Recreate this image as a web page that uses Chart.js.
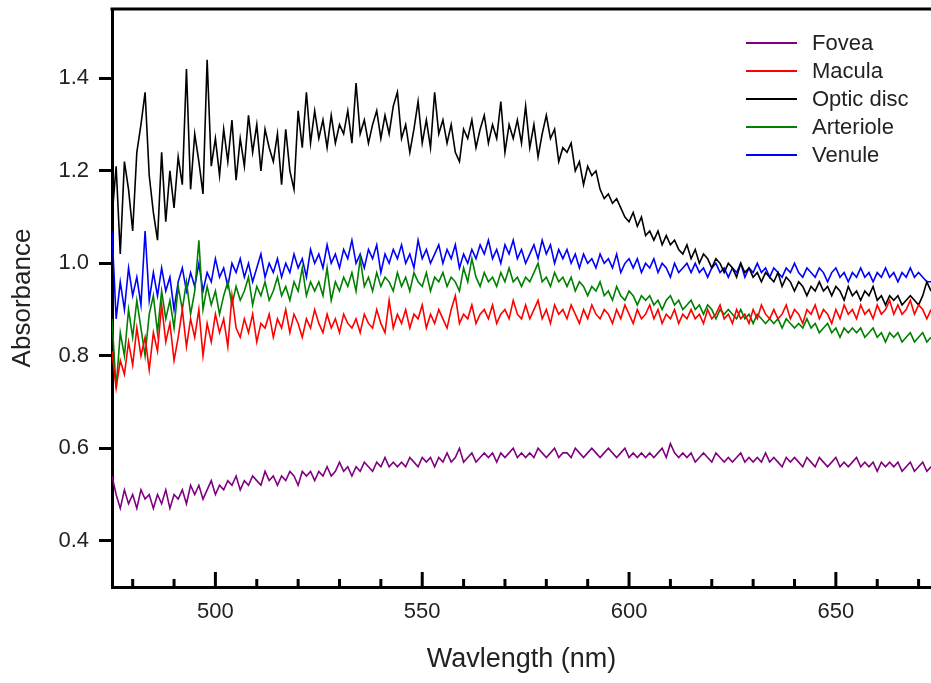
<!DOCTYPE html>
<html>
<head>
<meta charset="utf-8">
<script src="https://cdn.jsdelivr.net/npm/chart.js@4.4.1/dist/chart.umd.min.js"></script>
<style>
    body { margin: 0; background: #fff; }
    #wrap { position: relative; width: 931px; height: 683px; }
    #legend { position: absolute; left: 746px; top: 29px; font-family: "Liberation Sans", Arial, sans-serif; font-size: 22px; color: #222; }
    .row { display: flex; align-items: center; height: 28px; }
    .swatch { width: 51px; height: 2px; margin-right: 15px; }
</style>
</head>
<body>
<div id="wrap">
    <canvas id="chart" width="931" height="683"></canvas>
    <div id="legend"></div>
</div>
<script>
// wavelengths start at 475 nm, one value per nm up to 673 nm
const waveStart = 475;
const xTickLabels = [500, 550, 600, 650];
const yTickLabels = [0.4, 0.6, 0.8, 1.0, 1.2, 1.4];
const seriesNames = ["Fovea", "Macula", "Optic disc", "Arteriole", "Venule"];
const seriesColors = ["#800080", "#ff0000", "#000000", "#008000", "#0000ff"];

const fovea = [
    0.54, 0.50, 0.47, 0.51, 0.48, 0.50, 0.47, 0.51, 0.49, 0.50,
    0.47, 0.50, 0.48, 0.51, 0.47, 0.50, 0.49, 0.51, 0.48, 0.52,
    0.50, 0.52, 0.49, 0.51, 0.53, 0.50, 0.52, 0.51, 0.53, 0.52,
    0.54, 0.51, 0.53, 0.52, 0.54, 0.53, 0.52, 0.55, 0.53, 0.54,
    0.52, 0.54, 0.53, 0.55, 0.54, 0.52, 0.55, 0.54, 0.55, 0.53,
    0.55, 0.54, 0.56, 0.54, 0.55, 0.57, 0.55, 0.56, 0.54, 0.56,
    0.55, 0.57, 0.56, 0.55, 0.57, 0.56, 0.58, 0.56, 0.57, 0.56,
    0.57, 0.56, 0.58, 0.57, 0.56, 0.58, 0.57, 0.58, 0.56, 0.58,
    0.57, 0.59, 0.57, 0.58, 0.60, 0.57, 0.58, 0.59, 0.57, 0.58,
    0.59, 0.58, 0.59, 0.57, 0.59, 0.58, 0.59, 0.60, 0.58, 0.59,
    0.58, 0.59, 0.58, 0.60, 0.59, 0.58, 0.59, 0.60, 0.58, 0.59,
    0.59, 0.58, 0.60, 0.59, 0.58, 0.59, 0.60, 0.59, 0.58, 0.59,
    0.60, 0.59, 0.58, 0.59, 0.60, 0.58, 0.59, 0.58, 0.59, 0.58,
    0.59, 0.58, 0.59, 0.60, 0.58, 0.61, 0.59, 0.58, 0.59, 0.58,
    0.59, 0.57, 0.58, 0.59, 0.58, 0.57, 0.59, 0.58, 0.57, 0.58,
    0.57, 0.58, 0.59, 0.57, 0.58, 0.57, 0.58, 0.57, 0.59, 0.57,
    0.58, 0.57, 0.56, 0.58, 0.57, 0.58, 0.57, 0.56, 0.58, 0.57,
    0.56, 0.58, 0.57, 0.56, 0.57, 0.58, 0.56, 0.57, 0.56, 0.57,
    0.58, 0.56, 0.57, 0.56, 0.57, 0.55, 0.57, 0.56, 0.57, 0.56,
    0.57, 0.55, 0.56, 0.57, 0.55, 0.56, 0.57, 0.55, 0.56
];

const macula = [
    0.81, 0.73, 0.79, 0.76, 0.83, 0.78, 0.86, 0.80, 0.84, 0.77,
    0.85, 0.81, 0.91, 0.83, 0.87, 0.79, 0.84, 0.90, 0.82, 0.88,
    0.84, 0.90, 0.80, 0.87, 0.83, 0.89, 0.85, 0.88, 0.82, 0.93,
    0.86, 0.84, 0.88, 0.85, 0.89, 0.83, 0.87, 0.86, 0.89, 0.84,
    0.88, 0.86, 0.90, 0.85, 0.89, 0.87, 0.84, 0.88, 0.86, 0.90,
    0.87, 0.85, 0.89, 0.86, 0.88, 0.85, 0.89, 0.87, 0.86, 0.88,
    0.85, 0.89, 0.87, 0.86, 0.90, 0.87, 0.85, 0.92, 0.86, 0.89,
    0.87, 0.90, 0.86, 0.89, 0.88, 0.91, 0.86, 0.89, 0.87, 0.90,
    0.88, 0.86, 0.90, 0.93, 0.87, 0.89, 0.88, 0.91, 0.87, 0.89,
    0.90, 0.88, 0.91, 0.87, 0.89, 0.90, 0.88, 0.92, 0.89, 0.88,
    0.91, 0.88, 0.90, 0.92, 0.88, 0.90, 0.87, 0.91, 0.89, 0.90,
    0.88, 0.91, 0.89, 0.87, 0.90, 0.88, 0.91, 0.89, 0.88, 0.90,
    0.89, 0.87, 0.90, 0.88, 0.91, 0.89, 0.87, 0.90, 0.88, 0.89,
    0.91, 0.88, 0.90, 0.87, 0.89, 0.88, 0.90, 0.87, 0.89, 0.88,
    0.90, 0.88, 0.89, 0.87, 0.90, 0.88, 0.89, 0.91, 0.88, 0.89,
    0.87, 0.90, 0.88, 0.89, 0.87, 0.90, 0.88, 0.91, 0.89, 0.88,
    0.90, 0.88, 0.89, 0.91, 0.88, 0.90, 0.89, 0.87, 0.90, 0.89,
    0.91, 0.88, 0.90, 0.89, 0.87, 0.90, 0.88, 0.91, 0.89, 0.90,
    0.88, 0.91, 0.89, 0.90, 0.88, 0.91, 0.89, 0.90, 0.92, 0.89,
    0.91, 0.89, 0.90, 0.92, 0.89, 0.91, 0.90, 0.88, 0.90
];

const opticDisc = [
    1.10, 1.21, 1.02, 1.22, 1.16, 1.07, 1.24, 1.30, 1.37, 1.19,
    1.11, 1.05, 1.24, 1.09, 1.20, 1.12, 1.23, 1.17, 1.42, 1.16,
    1.28, 1.22, 1.15, 1.44, 1.21, 1.27, 1.19, 1.29, 1.22, 1.31,
    1.18, 1.27, 1.21, 1.32, 1.24, 1.30, 1.20, 1.29, 1.25, 1.22,
    1.28, 1.17, 1.29, 1.20, 1.16, 1.33, 1.25, 1.37, 1.26, 1.33,
    1.27, 1.31, 1.25, 1.32, 1.26, 1.30, 1.28, 1.33, 1.26, 1.39,
    1.28, 1.31, 1.26, 1.30, 1.33, 1.27, 1.32, 1.28, 1.34, 1.37,
    1.27, 1.30, 1.24, 1.29, 1.35, 1.26, 1.31, 1.25, 1.37, 1.28,
    1.31, 1.26, 1.30, 1.24, 1.22, 1.29, 1.27, 1.31, 1.25, 1.29,
    1.32, 1.26, 1.30, 1.27, 1.35, 1.24, 1.30, 1.27, 1.31, 1.26,
    1.34, 1.25, 1.30, 1.23, 1.28, 1.32, 1.27, 1.29, 1.22, 1.25,
    1.24, 1.26, 1.20, 1.22, 1.17, 1.21, 1.19, 1.20, 1.16, 1.14,
    1.15, 1.13, 1.14, 1.12, 1.10, 1.09, 1.11, 1.08, 1.10, 1.06,
    1.07, 1.05, 1.07, 1.04, 1.06, 1.04, 1.05, 1.03, 1.02, 1.04,
    1.01, 1.03, 1.00, 1.02, 1.01, 0.99, 1.01, 1.00, 0.98, 1.00,
    0.99, 0.97, 1.00, 0.98, 0.99, 0.97, 0.98, 0.96, 0.98, 0.97,
    0.96, 0.98, 0.95, 0.97, 0.96, 0.94, 0.96, 0.95, 0.93, 0.95,
    0.94, 0.96, 0.94, 0.95, 0.93, 0.95, 0.94, 0.92, 0.95, 0.93,
    0.94, 0.92, 0.94, 0.93, 0.95, 0.92, 0.93, 0.91, 0.93, 0.92,
    0.93, 0.91, 0.92, 0.93, 0.92, 0.91, 0.93, 0.96, 0.94
];

const arteriole = [
    0.88, 0.73, 0.85, 0.80, 0.90, 0.84, 0.92, 0.86, 0.80, 0.89,
    0.93, 0.85, 0.94, 0.88, 0.92, 0.86, 0.95, 0.90, 0.96, 0.89,
    0.94, 1.05, 0.90, 0.95, 0.91, 0.94, 0.89, 0.93, 0.96, 0.91,
    0.95, 0.92, 0.94, 0.97, 0.91, 0.95, 0.93, 0.96, 0.92, 0.94,
    0.97, 0.93, 0.95, 0.92, 0.96, 0.94, 0.99, 0.93, 0.96, 0.94,
    0.96, 0.93, 0.99, 0.92, 0.96, 0.94, 0.97, 0.95, 0.98, 0.94,
    1.01, 0.95, 0.97, 0.94, 0.98, 0.95, 0.97, 0.96, 0.94, 0.98,
    0.95, 0.97, 0.94, 0.98, 0.96, 0.95, 0.98, 0.94, 0.97, 0.96,
    0.98, 0.95, 0.97, 0.96, 0.94, 0.99, 0.96, 1.01, 0.97, 0.95,
    0.98, 0.96, 0.97, 0.95, 0.98, 0.96, 0.99, 0.96, 0.97, 0.95,
    0.97, 0.96, 0.98, 1.00, 0.96, 0.97, 0.95, 0.98, 0.96, 0.97,
    0.95, 0.97, 0.94, 0.96, 0.95, 0.93, 0.95, 0.94, 0.96, 0.93,
    0.94, 0.92, 0.95, 0.93, 0.92, 0.94, 0.93, 0.91, 0.93, 0.92,
    0.93, 0.91, 0.92, 0.90, 0.92, 0.93, 0.91, 0.92, 0.90, 0.91,
    0.92, 0.90, 0.91, 0.89, 0.91, 0.90, 0.88, 0.90, 0.89, 0.90,
    0.89, 0.88, 0.90, 0.88, 0.89, 0.87, 0.89, 0.88, 0.87, 0.88,
    0.87, 0.88, 0.86, 0.88, 0.87, 0.86, 0.87, 0.86, 0.88, 0.86,
    0.87, 0.85, 0.86, 0.87, 0.85, 0.86, 0.84, 0.86, 0.85, 0.86,
    0.85, 0.86, 0.84, 0.85, 0.86, 0.84, 0.85, 0.83, 0.85, 0.84,
    0.85, 0.83, 0.84, 0.85, 0.83, 0.84, 0.85, 0.83, 0.84
];

const venule = [
    1.07, 0.88, 0.96, 0.90, 0.99, 0.93, 0.97, 0.91, 1.07, 0.92,
    0.98, 0.93, 0.99, 0.94, 0.97, 0.90, 0.96, 0.99, 0.94, 0.98,
    0.95, 1.00, 0.94, 0.98, 0.96, 1.01, 0.97, 0.99, 0.95, 1.00,
    0.98, 1.01, 0.97, 1.00, 0.96, 0.99, 1.02, 0.97, 1.00, 0.98,
    1.01, 0.97, 1.00, 0.98, 1.02, 0.99, 1.01, 0.97, 1.03, 1.00,
    1.02, 0.99, 1.04, 1.00, 1.02, 0.99, 1.03, 1.01, 1.05, 1.00,
    1.02, 0.99, 1.03, 1.01, 1.04, 0.98, 1.02, 1.00, 1.03, 1.01,
    1.04, 1.00, 1.02, 0.99, 1.05, 1.01, 1.03, 1.00, 1.02, 1.04,
    1.00, 1.03, 1.01, 1.04, 0.99, 1.02, 1.00, 1.03, 1.01, 1.04,
    1.02, 1.05, 1.01, 1.03, 1.00, 1.04, 1.02, 1.05, 1.01, 1.03,
    1.00, 1.02, 1.04, 1.01, 1.05, 1.02, 1.04, 1.00, 1.03, 1.01,
    1.03, 1.00, 1.02, 0.99, 1.02, 1.00, 1.01, 0.99, 1.02, 1.00,
    1.01, 0.99, 1.02, 0.98, 1.00, 1.01, 0.99, 1.01, 0.98, 1.00,
    0.99, 1.01, 0.98, 1.00, 0.99, 0.97, 1.00, 0.98, 0.99, 1.00,
    0.98, 1.00, 0.98, 0.99, 0.97, 0.99, 1.00, 0.98, 0.99, 0.97,
    0.99, 0.98, 1.00, 0.97, 0.99, 0.98, 1.00, 0.98, 0.99, 0.97,
    0.99, 0.98, 0.97, 0.99, 0.98, 1.00, 0.98, 0.97, 0.99, 0.98,
    0.97, 0.99, 0.98, 0.96, 0.98, 0.99, 0.97, 0.98, 0.96, 0.98,
    0.97, 0.99, 0.97, 0.98, 0.96, 0.98, 0.97, 0.99, 0.97, 0.98,
    0.96, 0.98, 0.97, 0.99, 0.97, 0.98, 0.97, 0.96, 0.96
];

const seriesValues = [fovea, macula, opticDisc, arteriole, venule];

const textColor = "#222";
const fontFamily = "'Liberation Sans', Arial, sans-serif";

// frame line on top + inward ticks on the wavelength axis
const frameTicks = {
    id: "frameTicks",
    afterDraw(chart) {
        const ctx = chart.ctx;
        const area = chart.chartArea;
        const xs = chart.scales.x;
        ctx.save();
        ctx.strokeStyle = "#000";
        ctx.lineWidth = 3;
        ctx.beginPath();
        ctx.moveTo(area.left - 1.5, area.top);
        ctx.lineTo(area.right, area.top);
        ctx.stroke();
        for (let v = 480; v <= 670; v += 10) {
            const px = xs.getPixelForValue(v);
            const len = v % 50 === 0 ? 15 : 8;
            ctx.beginPath();
            ctx.moveTo(px, area.bottom);
            ctx.lineTo(px, area.bottom - len);
            ctx.stroke();
        }
        ctx.restore();
    }
};

const datasets = seriesNames.map((name, i) => ({
    label: name,
    data: seriesValues[i].map((v, j) => ({ x: waveStart + j, y: v })),
    borderColor: seriesColors[i],
    backgroundColor: seriesColors[i],
    borderWidth: 1.6,
    pointRadius: 0,
    tension: 0
}));

new Chart(document.getElementById("chart"), {
    type: "line",
    data: { datasets: datasets },
    plugins: [frameTicks],
    options: {
        responsive: false,
        devicePixelRatio: 1,
        animation: false,
        layout: { padding: { top: 9, right: 0, left: 0, bottom: 0 } },
        plugins: {
            legend: { display: false },
            tooltip: { enabled: false }
        },
        scales: {
            x: {
                type: "linear",
                min: 475,
                max: 673,
                afterFit: s => { s.height = 96; s.paddingLeft = 0; s.paddingRight = 0; },
                afterBuildTicks: s => { s.ticks = xTickLabels.map(v => ({ value: v })); },
                grid: { display: false, drawTicks: false },
                border: { display: true, color: "#000", width: 3 },
                ticks: { padding: 12, color: textColor, font: { family: fontFamily, size: 22 } },
                title: {
                    display: true,
                    text: "Wavlength (nm)",
                    color: textColor,
                    font: { family: fontFamily, size: 27 },
                    padding: { top: 0, bottom: 7 }
                }
            },
            y: {
                min: 0.3,
                max: 1.55,
                afterFit: s => { s.width = 112; s.paddingTop = 0; s.paddingBottom = 0; },
                afterBuildTicks: s => { s.ticks = yTickLabels.map(v => ({ value: v })); },
                grid: { drawOnChartArea: false, tickLength: 13, tickWidth: 3, tickColor: "#000" },
                border: { display: true, color: "#000", width: 3 },
                ticks: {
                    padding: 10,
                    color: textColor,
                    font: { family: fontFamily, size: 22 },
                    callback: v => v.toFixed(1)
                },
                title: {
                    display: true,
                    text: "Absorbance",
                    color: textColor,
                    font: { family: fontFamily, size: 26 },
                    padding: { top: 7, bottom: 0 }
                }
            }
        }
    }
});

// legend as text next to the plot
const legend = document.getElementById("legend");
seriesNames.forEach((name, i) => {
    const row = document.createElement("div");
    row.className = "row";
    const sw = document.createElement("div");
    sw.className = "swatch";
    sw.style.background = seriesColors[i];
    const label = document.createElement("span");
    label.textContent = name;
    row.appendChild(sw);
    row.appendChild(label);
    legend.appendChild(row);
});
</script>
</body>
</html>
